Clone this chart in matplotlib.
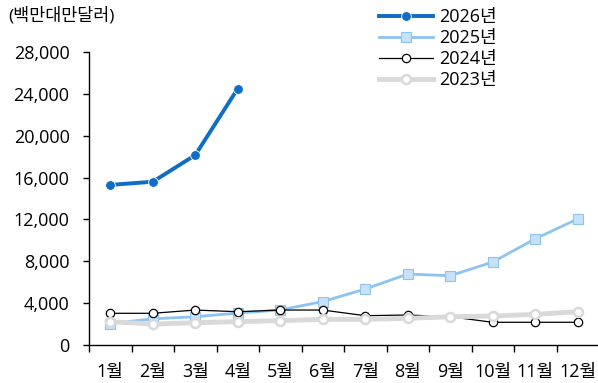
import matplotlib.pyplot as plt
import numpy as np

plt.rcParams['font.family'] = ['Open Sans', 'Noto Sans CJK KR', 'DejaVu Sans']

months = ["1월", "2월", "3월", "4월", "5월", "6월", "7월", "8월", "9월", "10월", "11월", "12월"]
y2026 = [15300, 15600, 18150, 24500]
y2025 = [2050, 2500, 2700, 3050, 3350, 4150, 5350, 6780, 6620, 7930, 10150, 12050]
y2024 = [3030, 3030, 3340, 3180, 3340, 3340, 2800, 2870, 2700, 2170, 2170, 2170]
y2023 = [2230, 2000, 2130, 2230, 2330, 2450, 2450, 2550, 2700, 2770, 2930, 3180]
yticks = [0, 4000, 8000, 12000, 16000, 20000, 24000, 28000]

fig = plt.figure(figsize=(5.98, 3.83), dpi=100)
ax = fig.add_axes([89 / 598, 38 / 383, 510 / 598, 293 / 383])

x = np.arange(len(months))

l26, = ax.plot(x[:len(y2026)], y2026, color="#0F6DC5", lw=2.8, marker="o", ms=7,
               mfc="#0F6DC5", mec="white", mew=0.6, zorder=5, label="2026년")
l25, = ax.plot(x, y2025, color="#8DC3F2", lw=2.0, marker="s", ms=6.5,
               mfc="#C6E1F9", mec="#8DC3F2", mew=0.8, zorder=2, label="2025년")
l24, = ax.plot(x, y2024, color="black", lw=0.9, marker="o", ms=6,
               mfc="white", mec="black", mew=0.9, zorder=3, label="2024년")
l23, = ax.plot(x, y2023, color="#D9D9D9", lw=3.5, marker="o", ms=6.5,
               mfc="white", mec="#D9D9D9", mew=1.8, zorder=4, label="2023년")

ax.set_xlim(-0.5, len(months) - 0.5)
ax.set_ylim(0, 28000)
ax.set_yticks(yticks)
ax.set_yticklabels([f"{v:,}" for v in yticks], fontsize=13)

# category labels centered, tick marks between categories
ax.set_xticks(x)
ax.set_xticklabels(months, fontsize=13)
ax.tick_params(axis="x", which="major", length=0, pad=13)
ax.set_xticks(np.arange(-0.5, len(months), 1), minor=True)
ax.tick_params(axis="x", which="minor", length=5, width=1, direction="out")
ax.tick_params(axis="y", length=4, width=1, direction="out", pad=10)

for side in ["top", "right"]:
    ax.spines[side].set_visible(False)
for side in ["left", "bottom"]:
    ax.spines[side].set_linewidth(1)
    ax.spines[side].set_color("black")

fig.text(8 / 598, 1 - 16 / 383, "(백만대만달러)", fontsize=12.5, va="center", ha="left")

fig.legend(handles=[l26, l25, l24, l23], loc="upper left",
           bbox_to_anchor=(372 / 598, 1 - 1 / 383), bbox_transform=fig.transFigure,
           frameon=False, fontsize=13, handlelength=3.0, handletextpad=0.3,
           labelspacing=0.17, borderaxespad=0)

fig.savefig("out.png", dpi=100)
